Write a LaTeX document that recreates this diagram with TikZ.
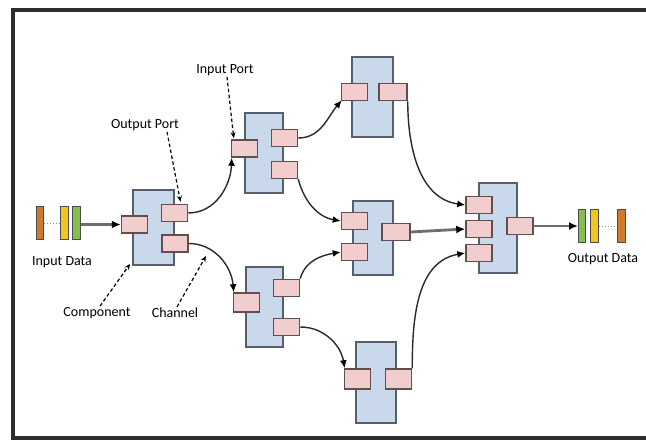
\documentclass[tikz,border=0pt]{standalone}
\usepackage{fontspec}
\setmainfont{Carlito}
\usetikzlibrary{arrows.meta}
\definecolor{framecol}{HTML}{2E2E2E}
\definecolor{compfill}{HTML}{C9D8EB}
\definecolor{compline}{HTML}{56606C}
\definecolor{portfill}{HTML}{F2CDCD}
\definecolor{portline}{HTML}{614F4F}
\definecolor{wire}{HTML}{2A2A2A}
\definecolor{pipe}{HTML}{6E6E6E}
\definecolor{orangebar}{HTML}{D27A2C}
\definecolor{yellowbar}{HTML}{F3C51E}
\definecolor{greenbar}{HTML}{84BE4E}
\definecolor{dotcol}{HTML}{7F93B0}
\tikzset{
  comp/.style={draw=compline, fill=compfill, line width=1.7pt, inner sep=0pt},
  port/.style={draw=portline, fill=portfill, line width=1.5pt, inner sep=0pt,
               minimum width=26pt, minimum height=17pt},
  databar/.style={draw=black!70, line width=1pt, inner sep=0pt,
                  minimum width=7pt, minimum height=33pt},
  conn/.style={draw=wire, line width=1.4pt, -{Latex[length=8pt,width=7pt,color=black]}},
  pipeline/.style={draw=pipe, line width=2.8pt, -{Latex[length=9pt,width=8pt,color=black]}},
  note/.style={draw=black, line width=1.2pt, dash pattern=on 3.5pt off 2.5pt,
               -{Stealth[length=6pt,width=5pt]}},
  lbl/.style={font=\fontsize{14}{16}\selectfont, inner sep=1pt, text=black},
  dots/.style={draw=dotcol, line width=1pt, dotted}
}
\begin{document}
\begin{tikzpicture}[x=1pt,y=1pt]
\useasboundingbox (0,0) rectangle (646,-441);
\fill[white] (0,0) rectangle (646,-441);
% outer frame: top, left and bottom sides, open to the right
\draw[framecol, line width=4pt] (646,-10.5) -- (12.5,-10.5) -- (12.5,-438) -- (646,-438);

% components
\node[comp, minimum width=41pt, minimum height=75pt] (A) at (153.5,-227.5) {};
\node[comp, minimum width=38pt, minimum height=80pt] (B) at (264,-153) {};
\node[comp, minimum width=41pt, minimum height=80pt] (C) at (372.5,-97) {};
\node[comp, minimum width=40pt, minimum height=74pt] (D) at (373,-238) {};
\node[comp, minimum width=38pt, minimum height=90pt] (E) at (498,-228) {};
\node[comp, minimum width=37pt, minimum height=80pt] (F) at (264.5,-307) {};
\node[comp, minimum width=40pt, minimum height=81pt] (G) at (376,-382.5) {};

% ports
\node[port] (Ain)   at (134.5,-224.5) {};
\node[port] (Aout1) at (174.5,-213) {};
\node[port] (Aout2) at (175,-243.5) {};
\node[port] (Bin)   at (244.5,-148.5) {};
\node[port] (Bout1) at (284.5,-138) {};
\node[port] (Bout2) at (284.5,-170) {};
\node[port] (Cin)   at (354.5,-92) {};
\node[port, minimum width=28pt] (Cout) at (393,-92) {};
\node[port] (Din1)  at (354.5,-221) {};
\node[port] (Din2)  at (354.5,-252) {};
\node[port, minimum width=28pt] (Dout) at (396,-232) {};
\node[port] (Ein1)  at (479,-205) {};
\node[port] (Ein2)  at (479,-229) {};
\node[port] (Ein3)  at (479,-253) {};
\node[port] (Eout)  at (520,-226) {};
\node[port, minimum height=19pt] (Fin) at (246.5,-302.5) {};
\node[port] (Fout1) at (286.5,-288) {};
\node[port] (Fout2) at (286.5,-327) {};
\node[port, minimum height=20pt] (Gin) at (357.5,-379) {};
\node[port, minimum height=20pt] (Gout) at (398.5,-379) {};

% input data
\node[databar, fill=orangebar] (inO) at (39.5,-223.5) {};
\node[databar, fill=yellowbar, minimum width=8pt] (inY) at (64,-223.5) {};
\node[databar, fill=greenbar, minimum width=8pt] (inG) at (76,-223.5) {};
\draw[dots] (inO) -- (inY);
% output data
\node[databar, fill=greenbar] (outG) at (582,-226.5) {};
\node[databar, fill=yellowbar, minimum width=8pt] (outY) at (594,-226.5) {};
\node[databar, fill=orangebar, minimum width=8pt] (outO) at (621,-226.5) {};
\draw[dots] (outY) -- (outO);

% channels
\draw[pipeline] (inG.east |- Ain.west) -- (Ain.west);
\draw[conn] (Aout1.east) to[out=0,in=-92] ([xshift=1pt]Bin.south west);
\draw[conn] (Aout2.east) to[out=0,in=95] ([xshift=1pt]Fin.north west);
\draw[conn] (Bout1.east) to[out=0,in=-130] ([xshift=1pt,yshift=1pt]Cin.south west);
\draw[conn] (Bout2.south east) to[out=-75,in=170] (Din1.west);
\draw[conn] (Fout1.north east) to[out=75,in=190] (Din2.west);
\draw[conn] (Fout2.east) to[out=0,in=100] ([xshift=1pt]Gin.north west);
\draw[conn] (Cout.south east) to[out=-90,in=172] (Ein1.west);
\draw[conn] (Gout.north east) to[out=90,in=190] (Ein3.west);
\draw[pipeline] (Dout.east) -- (Ein2.west);
\draw[pipeline] (Eout.east) -- (outG.west |- Eout.east);

% labels
\node[lbl] (inlbl)  at (62,-262) {Input Data};
\node[lbl] (outlbl) at (603,-259) {Output Data};
\node[lbl] (iplbl)  at (225,-70) {Input Port};
\node[lbl] (oplbl)  at (145,-125) {Output Port};
\node[lbl] (cmplbl) at (97,-313) {Component};
\node[lbl] (chlbl)  at (175,-313) {Channel};

% annotation arrows
\coordinate (chantip) at (206,-256);
\draw[note] ([xshift=2pt]iplbl.south) -- ([xshift=3pt,yshift=1pt]Bin.north west);
\draw[note] ([xshift=22pt]oplbl.south) -- ([xshift=6pt,yshift=2pt]Aout1.north);
\draw[note] ([xshift=3pt]cmplbl.north) -- ([xshift=-2pt,yshift=2pt]A.south west);
\draw[note] ([xshift=2pt]chlbl.north) -- (chantip);
\end{tikzpicture}
\end{document}
